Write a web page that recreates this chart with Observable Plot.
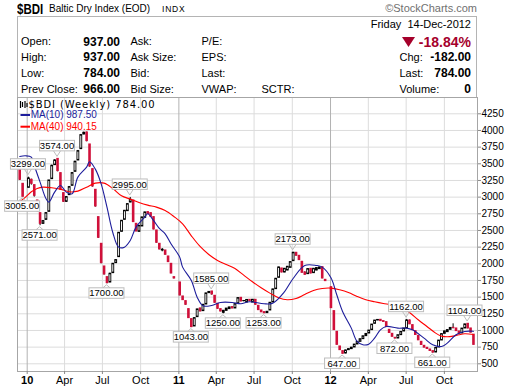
<!DOCTYPE html>
<html>
<head>
<meta charset="utf-8">
<script src="https://cdn.jsdelivr.net/npm/d3@7"></script>
<script src="https://cdn.jsdelivr.net/npm/@observablehq/plot@0.6"></script>
<style>
html,body{margin:0;padding:0;background:#fff;}
#wrap{position:relative;width:516px;height:388px;overflow:hidden;font-family:"Liberation Sans",Arial,Helvetica,sans-serif;color:#000;}
.t{position:absolute;white-space:nowrap;}
#chart{position:absolute;left:0;top:96px;}
#hdr{position:absolute;left:17px;top:16px;width:460px;height:82px;box-sizing:border-box;border:1px solid #b4b4b4;}
</style>
</head>
<body>
<div id="wrap"><div id="hdr"></div><div id="chart"></div></div>
<script>
// ---------- DATA (weekly OHLC of $BDI, one row per week starting the given Monday) ----------
const start2009 = "2009-12-14";
const bdi2009 = [[3430,3430,3250,3260],[3200,3200,3005,3005]];
const start2010 = "2010-01-04";
const bdi2010 = [
[3140,3299,3140,3280],[3260,3270,3180,3200],[3180,3180,3000,3020],[2950,2950,2780,2790],
[2760,2760,2571,2600],[2600,2650,2590,2640],[2660,2770,2650,2760],[2780,3250,2780,3250],
[3270,3480,3270,3470],[3480,3560,3480,3550],[3574,3574,3380,3390],[3360,3360,3100,3110],
[3060,3060,2920,2930],[2930,3010,2920,3000],[3030,3160,3030,3150],[3170,3370,3170,3360],
[3380,3540,3380,3530],[3550,3700,3550,3690],[3720,3940,3720,3930],[3940,3975,3935,3965],
[3970,3975,3830,3840],[3790,3790,3450,3460],[3420,3420,3150,3160],[3110,3110,2850,2860],
[2700,2700,2380,2390],[2300,2300,2000,2010],[1960,1960,1830,1840],[1800,1800,1700,1710],
[1720,1860,1715,1850],[1860,2005,1860,2000],[2010,2060,2005,2055],[2100,2470,2100,2465],
[2480,2650,2480,2645],[2660,2800,2660,2795],[2790,2900,2790,2895],[2920,2995,2915,2960],
[2950,2950,2620,2625],[2600,2600,2480,2485],[2480,2575,2475,2570],[2560,2700,2560,2695],
[2690,2775,2690,2770],[2775,2780,2740,2745],[2760,2760,2700,2705],[2700,2700,2510,2515],
[2500,2500,2310,2315],[2300,2300,2210,2215],[2200,2230,2180,2210],[2200,2200,2130,2135],
[2110,2110,2020,2025],[2000,2000,1850,1855],[1800,1800,1773,1780]];
const start2011 = "2011-01-03";
const bdi2011 = [
[1720,1720,1520,1525],[1510,1510,1450,1455],[1440,1440,1380,1385],[1320,1320,1180,1185],
[1170,1170,1043,1050],[1060,1190,1060,1185],[1200,1320,1200,1315],[1330,1335,1280,1285],
[1290,1390,1290,1385],[1390,1560,1390,1555],[1560,1580,1555,1578],[1585,1585,1530,1540],
[1520,1520,1410,1415],[1400,1400,1320,1325],[1320,1320,1280,1285],[1265,1300,1250,1295],
[1295,1330,1290,1328],[1320,1350,1315,1345],[1350,1355,1325,1330],[1330,1400,1330,1395],
[1400,1490,1400,1485],[1490,1490,1430,1435],[1440,1450,1430,1442],[1420,1460,1420,1458],
[1460,1460,1435,1440],[1420,1465,1420,1460],[1460,1460,1380,1385],[1370,1370,1300,1305],
[1300,1300,1270,1272],[1275,1275,1253,1258],[1260,1285,1255,1280],[1300,1420,1300,1415],
[1420,1620,1420,1615],[1620,1780,1620,1775],[1790,1950,1790,1945],[1930,1930,1865,1870],
[1870,1930,1865,1925],[1900,1960,1895,1955],[1940,2030,1940,2025],[2040,2173,2040,2165],
[2165,2170,2115,2120],[2120,2120,2050,2055],[2030,2030,1860,1865],[1870,1880,1830,1835],
[1845,1925,1840,1920],[1925,1925,1850,1855],[1860,1930,1855,1925],[1900,1940,1895,1935],
[1920,1950,1915,1945],[1950,1950,1775,1780],[1760,1760,1738,1740]];
const start2012 = "2012-01-02";
const bdi2012 = [
[1650,1650,1330,1335],[1290,1290,1000,1005],[980,980,780,785],[760,760,700,705],
[690,690,647,650],[655,705,650,700],[705,722,700,720],[720,745,718,742],
[745,790,745,788],[790,830,790,828],[830,870,830,868],[870,915,870,912],
[915,950,915,948],[955,1000,955,998],[1005,1090,1005,1088],[1100,1150,1100,1148],
[1150,1160,1148,1158],[1160,1160,1138,1140],[1140,1140,1125,1128],[1125,1125,1045,1050],
[1010,1010,960,962],[950,950,900,905],[890,890,872,880],[880,930,878,928],
[930,980,930,978],[985,1030,985,1028],[1030,1162,1030,1150],[1150,1155,1090,1092],
[1080,1080,1000,1005],[990,990,930,932],[920,920,850,852],[830,830,780,782],
[770,770,740,742],[740,740,720,722],[715,715,690,692],[690,690,661,668],
[670,740,668,738],[745,850,745,848],[850,950,850,945],[950,990,950,985],
[975,1010,970,1005],[1010,1040,1005,1038],[1040,1100,1025,1035],[1030,1030,985,990],
[985,985,945,950],[955,1030,955,1028],[1030,1095,1030,1090],[1100,1104,1025,1030],
[1030,1030,966,966],[937,937,784,784]];

// moving averages (week offsets from 2010-01-04)
const maBase = "2010-01-04";
const ma10Weeks = [-3,-1,1,2,4,6,7,9,11,13,15,17,20,21,23,25,27,29,31,33,35,37,40,41,43,45,47,49,52,53,56,58,60,63,66,70,73,76,81,84,88,91,95,99,101,104,106,108,111,113,115,117,119,121,123,127,130,132,136,139,142,144,147,150,153];
const ma10Values = [3610,3620,3600,3475,3225,2980,2925,3075,3175,3075,3050,3300,3450,3530,3420,3200,2850,2470,2250,2250,2350,2550,2700,2750,2650,2530,2450,2300,2100,1950,1750,1500,1370,1375,1420,1420,1400,1430,1400,1410,1580,1780,1975,1975,1950,1790,1535,1285,1035,835,785,795,885,1010,1060,1035,1035,1010,885,785,760,810,935,985,987.5];
const ma40Weeks = [-3,-1,1,3,5,8,11,14,17,20,23,26,29,32,35,38,41,44,47,50,53,56,59,62,65,68,71,74,77,80,83,86,89,92,95,98,101,104,107,110,113,116,119,122,125,128,131,134,137,140,142,144,146,148,150,153];
const ma40Values = [2930,3000,3080,3130,3150,3140,3120,3080,3090,3150,3210,3210,3130,3020,2970,2920,2880,2850,2800,2710,2600,2420,2260,2140,2050,1990,1930,1830,1730,1640,1560,1490,1460,1480,1540,1600,1630,1635,1610,1570,1510,1460,1430,1405,1385,1340,1270,1160,1060,960,915,905,915,935,950,940];

// swing-point annotations
const annoWeeks = [0,-2,10,4,27,35,56,63,67,81,91,108,126,130,139,151];
const annoValues = [3299,3005,3574,2571,1700,2995,1043,1585,1250,1253,2173,647,872,1162,661,1104];
const annoSides = ["above","below","above","below","below","above","below","above","below","below","above","below","below","above","below","above"];

// axes
const yTicks = [500,750,1000,1250,1500,1750,2000,2250,2500,2750,3000,3250,3500,3750,4000,4250];
const quarterTicks = ["2010-04-01","2010-07-01","2010-10-01","2011-04-01","2011-07-01","2011-10-01","2012-04-01","2012-07-01","2012-10-01"];
const yearTicks = ["2010-01-01","2011-01-01","2012-01-01"];

// header texts
const titleSymbol = "$BDI", titleName = "Baltic Dry Index (EOD)", titleExch = "INDX", credit = "\u00A9StockCharts.com";
const quoteDate = "Friday\u00A0\u00A014-Dec-2012", quotePct = "-18.84%";
const col1Labels = ["Open:","High:","Low:","Prev Close:"], col1Values = ["937.00","937.00","784.00","966.00"];
const col2Labels = ["Ask:","Ask Size:","Bid:","Bid Size:"];
const col3Labels = ["P/E:","EPS:","Last:","VWAP:"];
const col4Label = "SCTR:";
const rightLabels = ["Chg:","Last:","Volume:"], rightValues = ["-182.00","784.00","0"];
const legendMain = "$BDI (Weekly) 784.00", legendMA10 = "MA(10) 987.50", legendMA40 = "MA(40) 940.15";

// ---------- BUILD ----------
const utc = s => new Date(s + "T00:00:00Z");
function rows(list, start) {
  const s = utc(start);
  return list.map(([o,h,l,c], i) => ({date: d3.utcDay.offset(s, 7 * i), o, h, l, c}));
}
const candles = [...rows(bdi2009,start2009), ...rows(bdi2010,start2010), ...rows(bdi2011,start2011), ...rows(bdi2012,start2012)];
const ups = candles.filter(d => d.c >= d.o);
const downs = candles.filter(d => d.c < d.o);
const weekOf = w => d3.utcDay.offset(utc(maBase), 7 * w);
const ma10 = ma10Weeks.map((w, i) => ({date: weekOf(w), v: ma10Values[i]}));
const ma40 = ma40Weeks.map((w, i) => ({date: weekOf(w), v: ma40Values[i]}));
const qDates = quarterTicks.map(utc), yDates = yearTicks.map(utc);

const font = '"Liberation Sans", Arial, sans-serif';
const bodyTop = d => Math.max(d.o, d.c), bodyBot = d => Math.min(d.o, d.c);

const chart = Plot.plot({
  width: 516, height: 292,
  marginTop: 1, marginRight: 39, marginBottom: 17, marginLeft: 17,
  x: {type: "utc", domain: [new Date(Date.UTC(2009,11,8,16)), new Date(Date.UTC(2012,11,19,17))]},
  y: {type: "linear", domain: [384.5, 4494.5]},
  style: {fontFamily: font, fontSize: "10px", background: "transparent", overflow: "visible", color: "#000"},
  marks: [
    Plot.gridY(yTicks, {stroke: "#dcdcdc", strokeOpacity: 1}),
    Plot.gridX(qDates, {stroke: "#dcdcdc", strokeOpacity: 1}),
    Plot.gridX(yDates, {stroke: "#b2b2b2", strokeOpacity: 1}),
    Plot.ruleX(candles, {x: "date", y1: "h", y2: "l", stroke: "#000", strokeWidth: 1}),
    Plot.ruleX(downs, {x: "date", y1: bodyTop, y2: bodyBot, stroke: "#d0103a", strokeWidth: 2.6, insetTop: -0.5, insetBottom: -0.5}),
    Plot.ruleX(ups, {x: "date", y1: bodyTop, y2: bodyBot, stroke: "#000", strokeWidth: 2.8, insetTop: -0.5, insetBottom: -0.5}),
    Plot.ruleX(ups.filter(d => d.c - d.o > 35), {x: "date", y1: bodyTop, y2: bodyBot, stroke: "#fff", strokeWidth: 1, insetTop: 1, insetBottom: 1}),
    Plot.line(ma40, {x: "date", y: "v", stroke: "#ff0000", strokeWidth: 1.1, curve: "catmull-rom"}),
    Plot.line(ma10, {x: "date", y: "v", stroke: "#1d1d9b", strokeWidth: 1.1, curve: "catmull-rom"}),
    Plot.frame({stroke: "#a6a6a6"}),
    Plot.axisY(yTicks, {anchor: "right", tickSize: 3, tickPadding: 1, tickFormat: d => String(d), label: null, stroke: "#888", fontSize: 10}),
    Plot.axisX(qDates, {anchor: "bottom", tickSize: 3, tickPadding: 2, tickFormat: d3.utcFormat("%b"), label: null, stroke: "#888", fontSize: 11}),
    Plot.axisX(yDates, {anchor: "bottom", tickSize: 3, tickPadding: 2, tickFormat: d3.utcFormat("%y"), label: null, stroke: "#888", fontSize: 11, fontWeight: "bold"})
  ]
});
document.getElementById("chart").appendChild(chart);

// annotations positioned with the plot's own scales
const sx = chart.scale("x"), sy = chart.scale("y");
const ann = d3.select(chart).append("g").attr("font-family", font).attr("font-size", 9.5);
annoWeeks.forEach((w, i) => {
  const px = sx.apply(weekOf(w)), py = sy.apply(annoValues[i]);
  const bw = 35, bh = 10.5;
  const bx = Math.min(px - bw / 2, 482 - bw);
  const above = annoSides[i] === "above";
  const by = above ? py - 7.5 - bh : py + 4.5;
  const edge = above ? by + bh : by;
  const tip = above ? py - 2 : py + 1.5;
  ann.append("rect").attr("x", bx).attr("y", by).attr("width", bw).attr("height", bh).attr("fill", "#fff").attr("stroke", "#bdbdbd");
  ann.append("path").attr("d", `M${px-3.5},${edge}L${px},${tip}L${px+3.5},${edge}`).attr("fill", "none").attr("stroke", "#bdbdbd");
  ann.append("text").attr("x", bx + bw / 2).attr("y", by + bh / 2).attr("dy", "0.36em").attr("text-anchor", "middle").attr("fill", "#000").text(annoValues[i].toFixed(2));
});

// ---------- HEADER / LEGEND TEXT ----------
const wrap = document.getElementById("wrap");
function txt(s, o) {
  const e = document.createElement("div");
  e.className = "t";
  const fs = o.size || 11;
  e.style.fontSize = fs + "px";
  e.style.lineHeight = fs + "px";
  e.style.top = (o.base - 0.8465 * fs) + "px";
  if (o.right != null) e.style.right = (516 - o.right) + "px"; else e.style.left = o.x + "px";
  if (o.weight) e.style.fontWeight = o.weight;
  if (o.color) e.style.color = o.color;
  if (o.family) e.style.fontFamily = o.family;
  if (o.ls != null) e.style.letterSpacing = o.ls + "px";
  if (o.sx) { e.style.transform = `scaleX(${o.sx})`; e.style.transformOrigin = "left center"; }
  e.textContent = s;
  wrap.appendChild(e);
  return e;
}
txt(titleSymbol, {x: 17, base: 13.5, size: 14, weight: "bold", sx: 0.82});
txt(titleName, {x: 49, base: 12.5, size: 10});
txt(titleExch, {x: 162, base: 12.3, size: 8.5, ls: 0.8});
txt(credit, {right: 477, base: 12.3, size: 11, color: "#707070"});

const baselines = [45.8, 61.5, 77.2, 93.0];
col1Labels.forEach((s, i) => txt(s, {x: 21, base: baselines[i], size: 11}));
col1Values.forEach((s, i) => txt(s, {right: 120, base: baselines[i], size: 12, weight: "bold"}));
col2Labels.forEach((s, i) => txt(s, {x: 130.5, base: baselines[i], size: 11}));
col3Labels.forEach((s, i) => txt(s, {x: 201.5, base: baselines[i], size: 11}));
txt(col4Label, {x: 261.5, base: baselines[3], size: 11});
txt(quoteDate, {right: 471, base: 28.5, size: 11});
txt(quotePct, {right: 471, base: 46.5, size: 14, weight: "bold", color: "#a5002b"});
rightLabels.forEach((s, i) => txt(s, {x: 399.5, base: baselines[i + 1], size: 11}));
rightValues.forEach((s, i) => txt(s, {right: 471, base: baselines[i + 1], size: 12, weight: "bold"}));

// down triangle next to the percent change
const tri = d3.select(wrap).append("svg").style("position", "absolute").style("left", "401px").style("top", "36px")
  .attr("width", 15).attr("height", 12);
tri.append("path").attr("d", "M1,1L14,1L7.5,11Z").attr("fill", "#a5002b");

// legend inside the chart
const icon = d3.select(wrap).append("svg").style("position", "absolute").style("left", "19px").style("top", "100px")
  .attr("width", 9).attr("height", 9);
icon.append("path").attr("d", "M1.5,1V8M3.5,2V7M6,1V8M8,3V7").attr("stroke", "#000").attr("stroke-width", 1.2);
txt(legendMain, {x: 28.5, base: 108.3, size: 10, family: '"DejaVu Sans", sans-serif', ls: 0.9});
const mk = d3.select(wrap).append("svg").style("position", "absolute").style("left", "20px").style("top", "110px")
  .attr("width", 11).attr("height", 22);
mk.append("line").attr("x1", 0.5).attr("x2", 10).attr("y1", 5).attr("y2", 5).attr("stroke", "#1d1d9b").attr("stroke-width", 2);
mk.append("line").attr("x1", 0.5).attr("x2", 10).attr("y1", 16.7).attr("y2", 16.7).attr("stroke", "#ff0000").attr("stroke-width", 2);
txt(legendMA10, {x: 30.7, base: 118.8, size: 10, color: "#1d1d9b"});
txt(legendMA40, {x: 30.7, base: 130.5, size: 10, color: "#ff0000"});
</script>
</body>
</html>
